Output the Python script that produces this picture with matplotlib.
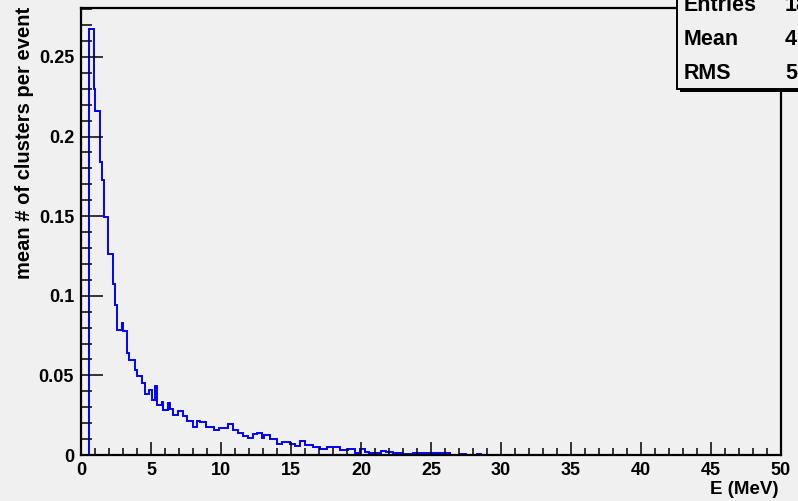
import matplotlib
matplotlib.use("Agg")
import matplotlib.pyplot as plt
from matplotlib.ticker import MultipleLocator, FixedFormatter, FixedLocator
from matplotlib.patches import Rectangle

# ---- data ----
edges = [0, 0.55, 0.9, 1.02, 1.33, 1.5, 1.64, 1.93, 2.29, 2.45, 2.6, 2.9, 3.02,
         3.31, 3.45, 3.86, 4.02, 4.33, 4.57, 4.88, 5.1, 5.29, 5.4, 5.76, 5.88,
         6.24, 6.36, 6.55, 6.95, 7.26, 7.55, 7.98, 8.26, 8.5, 8.9, 9.5, 9.85,
         10.5, 10.85, 11.2, 11.6, 11.9, 12.3, 12.55, 12.9, 13.1, 13.5, 14.0,
         14.33, 14.93, 15.3, 15.64, 16.0, 16.6, 17.07, 17.55, 18.5, 19.1, 19.6,
         19.9, 20.3, 20.6, 21.4, 21.8, 22.3, 23.0, 23.7, 24.7, 26.35, 27.07,
         27.5, 28.3, 28.6, 50]
values = [0, 0.2673, 0.2296, 0.2159, 0.1838, 0.173, 0.1495, 0.1264, 0.1075,
          0.0940, 0.0786, 0.0828, 0.0776, 0.064, 0.0597, 0.0535, 0.0497,
          0.0451, 0.0384, 0.0409, 0.0346, 0.0434, 0.0314, 0.0335, 0.0283,
          0.0329, 0.0289, 0.0252, 0.0279, 0.0245, 0.0216, 0.0178, 0.0216,
          0.0205, 0.0178, 0.0157, 0.0172, 0.0193, 0.0155, 0.0138, 0.0120,
          0.0105, 0.0132, 0.0140, 0.0108, 0.0128, 0.0099, 0.0072, 0.0081,
          0.0071, 0.0057, 0.0089, 0.0060, 0.0048, 0.0036, 0.0048, 0.0031,
          0.0038, 0.0015, 0.0036, 0.0021, 0.0011, 0.0025, 0.0019, 0.0015,
          0.0008, 0.0010, 0.0012, 0, 0.0008, 0, 0.0008, 0]
assert len(values) == len(edges) - 1

x_ticks = [0, 5, 10, 15, 20, 25, 30, 35, 40, 45, 50]
x_tick_labels = ["0", "5", "10", "15", "20", "25", "30", "35", "40", "45", "50"]
y_ticks = [0, 0.05, 0.1, 0.15, 0.2, 0.25]
y_tick_labels = ["0", "0.05", "0.1", "0.15", "0.2", "0.25"]

stats_names = ["Entries", "Mean", "RMS"]
stats_values = ["18", "4", "5"]   # truncated at the image edge in the reference

x_label = "E (MeV)"
y_label = "mean # of clusters per event"

# ---- figure ----
BG = "#f0f0f0"
plt.rcParams['font.family'] = ['Liberation Sans', 'DejaVu Sans']
plt.rcParams['font.weight'] = 'bold'

W, H = 798, 501
fig = plt.figure(figsize=(W / 100, H / 100), dpi=100, facecolor=BG)
ax = fig.add_axes([81 / W, 1 - 455 / H, 700 / W, 447 / H], facecolor=BG)

ax.stairs(values, edges, color="#0000ff", linewidth=1.4, baseline=None, zorder=1)

ax.set_xlim(0, 50)
ax.set_ylim(0, 0.2807)

for s in ax.spines.values():
    s.set_linewidth(1.6)
    s.set_color("black")
    s.set_zorder(3)

ax.xaxis.set_major_locator(FixedLocator(x_ticks))
ax.xaxis.set_major_formatter(FixedFormatter(x_tick_labels))
ax.xaxis.set_minor_locator(MultipleLocator(1))
ax.yaxis.set_major_locator(FixedLocator(y_ticks))
ax.yaxis.set_major_formatter(FixedFormatter(y_tick_labels))
ax.yaxis.set_minor_locator(MultipleLocator(0.01))

ax.tick_params(axis='x', which='major', direction='in', length=9.6, width=1.1,
               top=False, labelsize=13, pad=5)
ax.tick_params(axis='x', which='minor', direction='in', length=4.8, width=1.1, top=False)
ax.tick_params(axis='y', which='major', direction='in', length=15.8, width=1.1,
               right=False, labelsize=13, pad=5)
ax.tick_params(axis='y', which='minor', direction='in', length=7.9, width=1.1, right=False)
for lab in ax.get_xticklabels() + ax.get_yticklabels():
    lab.set_fontweight('bold')

fig.text(778 / W, 1 - 490 / H, x_label, ha='right', va='center',
         fontsize=13.5, fontweight='bold')
fig.text(25 / W, 1 - 7 / H, y_label, ha='center', va='top', rotation=90,
         fontsize=14.5, fontweight='bold')

# ---- stats box (top right, clipped by the image edge) ----
bx0, by0 = 677 / W, 1 - 88.5 / H
fig.patches.append(Rectangle((bx0 + 3 / W, by0 - 3 / H), 0.5, 0.5,
                             transform=fig.transFigure, facecolor='black',
                             edgecolor='none', zorder=10))
fig.patches.append(Rectangle((bx0, by0), 0.5, 0.5, transform=fig.transFigure,
                             facecolor=BG, edgecolor='black', linewidth=1.4,
                             zorder=11))
baselines = [11, 45, 79]
for name, val, bl in zip(stats_names, stats_values, baselines):
    fig.text(684 / W, 1 - bl / H, name, ha='left', va='baseline', fontsize=15.5,
             fontweight='bold', zorder=12)
    fig.text(785 / W, 1 - bl / H, val, ha='left', va='baseline', fontsize=15.5,
             fontweight='bold', zorder=12)

fig.savefig("out.png", dpi=100, facecolor=BG)
